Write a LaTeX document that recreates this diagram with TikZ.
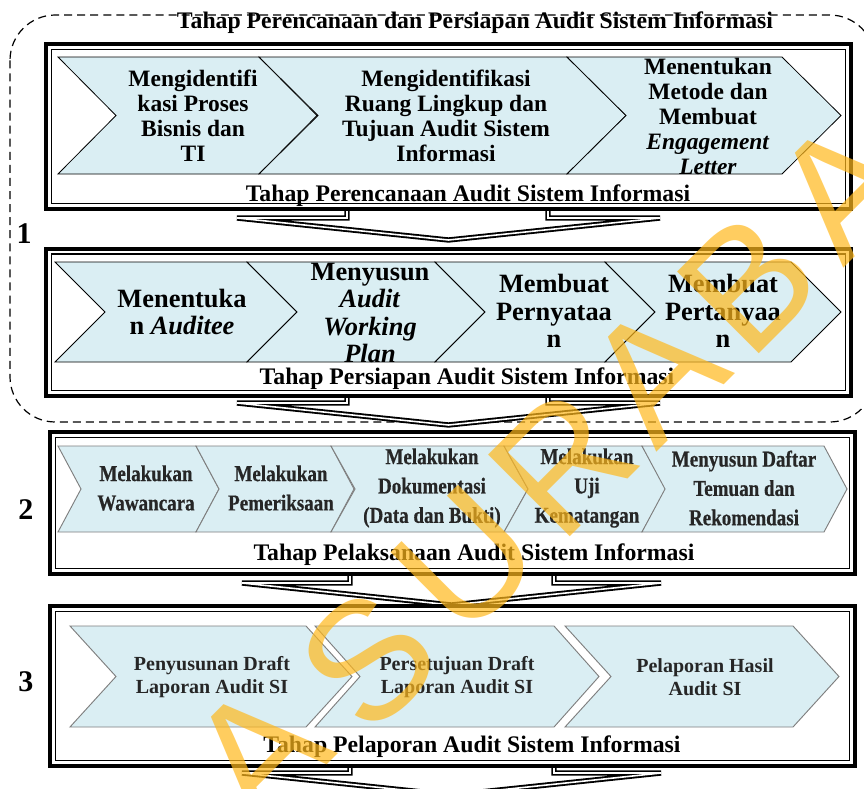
\documentclass[tikz,border=0pt]{standalone}
\usepackage{fontspec}
\setmainfont{Liberation Serif}
\newfontfamily\condfont{Liberation Serif}[FakeStretch=0.84, FakeBold=0.5, UprightFont=* Bold]
\newfontfamily\wmfont{Liberation Sans}
\definecolor{chevfill}{HTML}{DAEEF3}
\definecolor{chevgray}{HTML}{7F7F7F}
\definecolor{wmcol}{HTML}{FFB81C}
\newcommand\chevpath[6]{%
  \draw[#1] (#2,#4) -- (#3,#4) -- ({#3+#6},{(#4+#5)/2}) -- (#3,#5) -- (#2,#5) -- ({#2+#6},{(#4+#5)/2}) -- cycle;}
\newcommand\downarr[5]{%
  \draw[downarrow] (#1,#5) -- (#2,#5) -- (#2,{#5-25}) -- (#3,{#5-25}) -- (#3,#5) -- (#4,#5) -- ({(#1+#4)/2},{#5+22}) -- cycle;}
\begin{document}
\begin{tikzpicture}[x=0.75pt,y=-0.75pt,
  outerbox/.style={draw=black, line width=3pt, fill=white},
  innerbox/.style={draw=black, line width=0.9pt},
  chevA/.style={draw=black, line width=0.6pt, fill=chevfill},
  chevB/.style={draw=chevgray, line width=0.7pt, fill=chevfill},
  downarrow/.style={draw=black, fill=white, double=white, double distance=1.2pt, line width=1.4pt},
  ttl/.style={font=\bfseries\fontsize{17.8}{20}\selectfont, inner sep=0pt, anchor=base},
  num/.style={font=\bfseries\fontsize{22.5}{24}\selectfont, inner sep=0pt},
  tA/.style={align=center, inner sep=0pt, font=\bfseries\fontsize{17.6}{18.75}\selectfont},
  tB/.style={align=center, inner sep=0pt, font=\bfseries\fontsize{19.8}{20.7}\selectfont},
  tC/.style={align=center, inner sep=0pt, text=black!85, font=\condfont\fontsize{17}{22}\selectfont},
  tD/.style={align=center, inner sep=0pt, text=black!85, font=\bfseries\fontsize{15}{17.25}\selectfont},
  wm/.style={font=\wmfont\fontsize{126}{126}\selectfont, text=wmcol, text opacity=0.7, rotate=45, inner sep=0pt}]
\useasboundingbox (0,0) rectangle (864,789);
\clip (0,0) rectangle (864,789);

% dashed group frame
\draw[dash pattern=on 6pt off 3.8pt, line width=0.9pt, rounded corners=34pt] (10,15) rectangle (875,422);
\node[ttl] (grouptitle) at (475,28) {Tahap Perencanaan dan Persiapan Audit Sistem Informasi};

% ---------- box 1
\downarr{237}{347}{548}{660}{218}
\draw[outerbox] (46,44) rectangle (851,209);
\draw[innerbox] (51.5,49.5) rectangle (845.5,203.5);
\chevpath{chevA}{58}{259}{57}{174}{58}
\chevpath{chevA}{259}{567}{57}{174}{59}
\chevpath{chevA}{567}{782}{57}{174}{59}
\node[tA] (p1a) at (193,116) {Mengidentifi\\kasi Proses\\Bisnis dan\\TI};
\node[tA] (p1b) at (446,116) {Mengidentifikasi\\Ruang Lingkup dan\\Tujuan Audit Sistem\\Informasi};
\node[tA] (p1c) at (708,116) {Menentukan\\Metode dan\\Membuat\\\textit{Engagement}\\\textit{Letter}};
\node[ttl] (s1) at (468,201) {Tahap Perencanaan Audit Sistem Informasi};

% ---------- box 2
\downarr{237}{347}{548}{660}{403}
\draw[outerbox] (46,248.5) rectangle (851,396);
\draw[innerbox] (51.5,254) rectangle (845.5,390.5);
\chevpath{chevA}{55}{247}{262}{362}{50}
\chevpath{chevA}{247}{435}{262}{362}{50}
\chevpath{chevA}{435}{605}{262}{362}{50}
\chevpath{chevA}{605}{791}{262}{362}{50}
\node[tB] (p2a) at (182,312) {Menentuka\\n \textit{Auditee}};
\node[tB] (p2b) at (370,313) {Menyusun\\\textit{Audit}\\\textit{Working}\\\textit{Plan}};
\node[tB] (p2c) at (554,311) {Membuat\\Pernyataa\\n};
\node[tB] (p2d) at (723,311) {Membuat\\Pertanyaa\\n};
\node[ttl] (s2) at (467,384) {Tahap Persiapan Audit Sistem Informasi};

% ---------- box 3
\downarr{242}{350}{554}{661}{583}
\draw[outerbox] (50,432) rectangle (855,574);
\draw[innerbox] (55.5,437.5) rectangle (849.5,568.5);
\chevpath{chevB}{58}{196}{446}{532}{23}
\chevpath{chevB}{196}{331}{446}{532}{23}
\chevpath{chevB}{331}{504}{446}{532}{24}
\chevpath{chevB}{504}{642}{446}{532}{24}
\chevpath{chevB}{642}{824}{446}{532}{23}
\node[tC] (p3a) at (146,488) {Melakukan\\Wawancara};
\node[tC] (p3b) at (281,488) {Melakukan\\Pemeriksaan};
\node[tC] (p3c) at (432,488) {Melakukan\\Dokumentasi\\(Data dan Bukti)};
\node[tC] (p3d) at (587,488) {Melakukan\\Uji\\Kematangan};
\node[tC] (p3e) at (744,488) {Menyusun Daftar\\Temuan dan\\Rekomendasi};
\node[ttl] (s3) at (474,560) {Tahap Pelaksanaan Audit Sistem Informasi};

% ---------- box 4
\downarr{242}{350}{554}{661}{773}
\draw[outerbox] (50,606) rectangle (855,766);
\draw[innerbox] (55.5,611.5) rectangle (849.5,760.5);
\chevpath{chevB}{70}{306}{626}{727}{46}
\chevpath{chevB}{315}{554}{626}{727}{45}
\chevpath{chevB}{565}{793}{626}{727}{46}
\node[tD] (p4a) at (212,677) {Penyusunan Draft\\Laporan Audit SI};
\node[tD] (p4b) at (457,677) {Persetujuan Draft\\Laporan Audit SI};
\node[tD] (p4c) at (705,677) {Pelaporan Hasil\\Audit SI};
\node[ttl] (s4) at (472,752) {Tahap Pelaporan Audit Sistem Informasi};

% ---------- stage numbers
\node[num] (n1) at (24,234) {1};
\node[num] (n2) at (26,510) {2};
\node[num] (n3) at (26,682) {3};

% ---------- watermark
\node[wm] (w1) at (258,752) {A};
\node[wm] (w2) at (368,660) {S};
\node[wm] (w3) at (466,560) {U};
\node[wm] (w4) at (563,463) {R};
\node[wm] (w5) at (655,372) {A};
\node[wm] (w6) at (748,283) {B};
\node[wm] (w7) at (842,188) {A};
\end{tikzpicture}
\end{document}
